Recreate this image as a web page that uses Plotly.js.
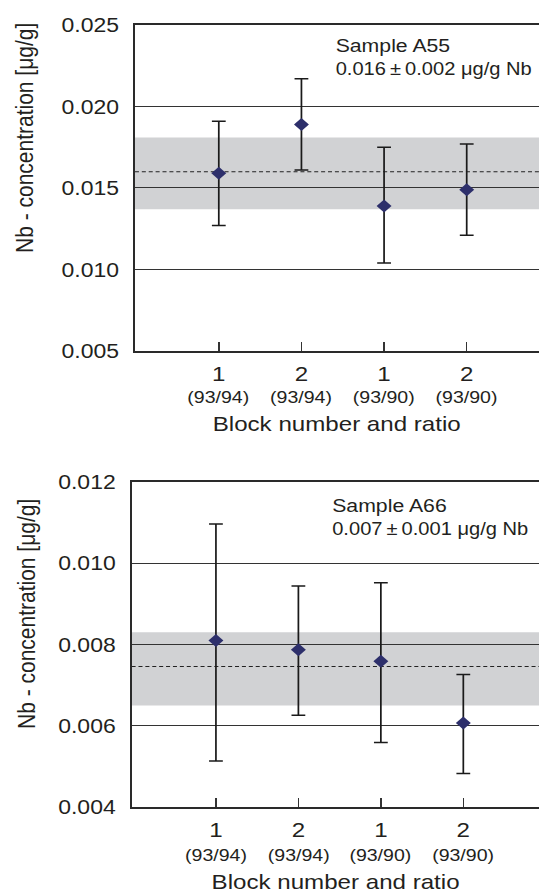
<!DOCTYPE html>
<html>
<head>
<meta charset="utf-8">
<script src="https://cdn.plot.ly/plotly-3.0.1.min.js"></script>
<style>
  html, body { margin: 0; padding: 0; background: #fff; overflow: hidden; }
  /* the figure is laid out narrower and widened horizontally */
  #chart { width: 469px; height: 895px; transform: scaleX(1.1493); transform-origin: 0 0; }
</style>
</head>
<body>
<div id="chart"></div>
<script>
// Measurement blocks and isotope ratios
const blockLabels = ['1', '2', '1', '2'];
const ratioLabels = ['(93/94)', '(93/94)', '(93/90)', '(93/90)'];

// Sample A55: Nb concentration per block [µg/g] with interval limits
const a55Value = [0.0159, 0.0189, 0.0139, 0.0149];
const a55Upper = [0.0191, 0.0217, 0.0175, 0.0177];
const a55Lower = [0.0127, 0.0161, 0.0104, 0.0121];
const a55Band = [0.0137, 0.0181];
const a55Mean = 0.0160;

// Sample A66: Nb concentration per block [µg/g] with interval limits
const a66Value = [0.0081, 0.00787, 0.00759, 0.00607];
const a66Upper = [0.01096, 0.00944, 0.00952, 0.00726];
const a66Lower = [0.00514, 0.00626, 0.00559, 0.00483];
const a66Band = [0.0065, 0.0083];
const a66Mean = 0.00746;

const sampleTitles = ['Sample A55', 'Sample A66'];
const sampleResults = ['0.016\u2009\u00b1\u20090.002 \u03bcg/g Nb', '0.007\u2009\u00b1\u20090.001 \u03bcg/g Nb'];

const FONT = 'Liberation Sans, Arial, Helvetica, sans-serif';
const INK = '#231f20';
const positions = blockLabels.map((_, i) => i + 1);

function series(values, upper, lower, xa, ya) {
  return {
    type: 'scatter', mode: 'markers', xaxis: xa, yaxis: ya,
    x: positions, y: values,
    marker: { symbol: 'diamond', size: 10, color: '#2d2f6b' },
    error_y: {
      type: 'data', symmetric: false,
      array: upper.map((u, i) => u - values[i]),
      arrayminus: lower.map((l, i) => values[i] - l),
      color: '#1a1a1a', thickness: 1.5, width: 6
    },
    showlegend: false, hoverinfo: 'x+y'
  };
}

const data = [
  series(a55Value, a55Upper, a55Lower, 'x', 'y'),
  series(a66Value, a66Upper, a66Lower, 'x2', 'y2')
];

function xAxis(domain, range, anchor) {
  return {
    domain: domain, range: range, anchor: anchor,
    tickmode: 'array', tickvals: positions, ticktext: blockLabels,
    ticks: 'inside', ticklen: 9, tickwidth: 1.3, tickcolor: '#333',
    ticklabelstandoff: 3,
    showline: true, linewidth: 1.8, linecolor: '#2a2a2a', mirror: true,
    showgrid: false, zeroline: false,
    tickfont: { family: FONT, size: 21, color: INK }
  };
}

function yAxis(domain, range, dtick, anchor) {
  return {
    domain: domain, range: range, anchor: anchor,
    tick0: range[0], dtick: dtick, tickformat: '.3f',
    ticks: '', ticklabelstandoff: 8,
    showline: true, linewidth: 1.8, linecolor: '#2a2a2a', mirror: false,
    showgrid: true, gridcolor: '#333', gridwidth: 1, zeroline: false,
    tickfont: { family: FONT, size: 20, color: INK }
  };
}

function bandShapes(band, mean, xa, ya) {
  return [
    { type: 'rect', xref: xa + ' domain', yref: ya, x0: 0, x1: 1, y0: band[0], y1: band[1],
      fillcolor: '#d1d2d4', line: { width: 0 }, layer: 'below' },
    { type: 'line', xref: xa + ' domain', yref: ya, x0: 0, x1: 1, y0: mean, y1: mean,
      line: { color: '#222', width: 1, dash: '3.5px,2.5px' }, layer: 'below' }
  ];
}

const annotations = [];
function panelText(xa, ratioY, titleX, titleY, yTitleY, sampleX, sampleY, idx) {
  positions.forEach((p, i) => annotations.push({
    xref: xa, yref: 'paper', x: p, y: ratioY, text: ratioLabels[i], showarrow: false,
    xanchor: 'center', yanchor: 'middle', font: { family: FONT, size: 17, color: INK }
  }));
  annotations.push({
    xref: 'paper', yref: 'paper', x: titleX, y: titleY, text: 'Block number and ratio',
    showarrow: false, xanchor: 'center', yanchor: 'middle', font: { family: FONT, size: 21, color: INK }
  });
  annotations.push({
    xref: 'paper', yref: 'paper', x: 0.047, y: yTitleY, text: 'Nb - concentration [\u03bcg/g]',
    textangle: -90, showarrow: false, xanchor: 'center', yanchor: 'middle',
    font: { family: FONT, size: 21, color: INK }
  });
  annotations.push({
    xref: 'paper', yref: 'paper', x: sampleX, y: sampleY[0], text: sampleTitles[idx],
    showarrow: false, xanchor: 'left', yanchor: 'middle', font: { family: FONT, size: 18.5, color: INK }
  });
  annotations.push({
    xref: 'paper', yref: 'paper', x: sampleX, y: sampleY[1], text: sampleResults[idx],
    showarrow: false, xanchor: 'left', yanchor: 'middle', font: { family: FONT, size: 17.5, color: INK }
  });
}

panelText('x', 1 - 397 / 895, 0.6252, 1 - 424 / 895, 1 - 138 / 895, 0.6185, [1 - 45 / 895, 1 - 69 / 895], 0);
panelText('x2', 1 - 855 / 895, 0.6221, 1 - 881 / 895, 1 - 614 / 895, 0.6115, [1 - 505 / 895, 1 - 529 / 895], 1);

const layout = {
  width: 469, height: 895,
  margin: { l: 0, r: 0, t: 0, b: 0 },
  paper_bgcolor: '#fff', plot_bgcolor: '#fff',
  font: { family: FONT, color: INK },
  xaxis: xAxis([0.2503, 1], [-0.015, 4.875], 'y'),
  yaxis: yAxis([0.60782, 0.97207], [0.005, 0.025], 0.005, 'x'),
  xaxis2: xAxis([0.2441, 1], [-0.023, 4.918], 'y2'),
  yaxis2: yAxis([0.09799, 0.46179], [0.004, 0.012], 0.002, 'x2'),
  shapes: bandShapes(a55Band, a55Mean, 'x', 'y').concat(bandShapes(a66Band, a66Mean, 'x2', 'y2')),
  annotations: annotations
};

Plotly.newPlot('chart', data, layout, { displayModeBar: false, staticPlot: true });
</script>
</body>
</html>
